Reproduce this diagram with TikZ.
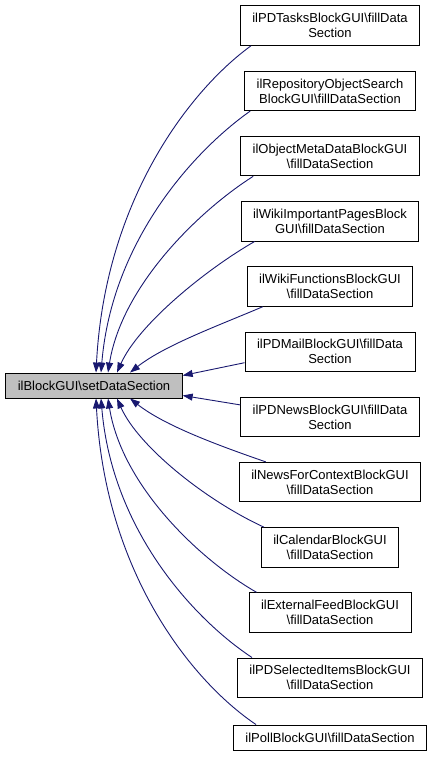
\documentclass[tikz,border=0pt]{standalone}
\usepackage{fontspec}
\setmainfont{Liberation Sans}[Ligatures=NoCommon]
\usetikzlibrary{arrows.meta}
\definecolor{edgeblue}{HTML}{191970}
\definecolor{maingray}{HTML}{BFBFBF}
\begin{document}
\begin{tikzpicture}[x=1pt,y=-1pt,
  box/.style={draw=black, line width=0.9pt, fill=white, align=center,
    font=\fontsize{13}{15}\selectfont, inner xsep=12pt, inner ysep=0pt},
  two/.style={box, minimum height=39.5pt},
  one/.style={box, minimum height=25pt},
  edge/.style={draw=edgeblue, line width=0.9pt,
    -{Triangle[length=10pt,width=7pt,fill=edgeblue]}}]
\useasboundingbox (0,0) rectangle (433,757);
\node[one, fill=maingray] (m) at (94,385.5) {ilBlockGUI\textbackslash setDataSection};
\node[two] (b1) at (330,25.7) {ilPDTasksBlockGUI\textbackslash fillData\\Section};
\node[two] (b2) at (330,90.9) {ilRepositoryObjectSearch\\BlockGUI\textbackslash fillDataSection};
\node[two] (b3) at (330,156.1) {ilObjectMetaDataBlockGUI\\\textbackslash fillDataSection};
\node[two] (b4) at (330,221.3) {ilWikiImportantPagesBlock\\GUI\textbackslash fillDataSection};
\node[two] (b5) at (330,286.5) {ilWikiFunctionsBlockGUI\\\textbackslash fillDataSection};
\node[two] (b6) at (330,351.7) {ilPDMailBlockGUI\textbackslash fillData\\Section};
\node[two] (b7) at (330,416.9) {ilPDNewsBlockGUI\textbackslash fillData\\Section};
\node[two] (b8) at (330,482.1) {ilNewsForContextBlockGUI\\\textbackslash fillDataSection};
\node[two] (b9) at (330,547.3) {ilCalendarBlockGUI\\\textbackslash fillDataSection};
\node[two] (b10) at (330,612.5) {ilExternalFeedBlockGUI\\\textbackslash fillDataSection};
\node[two] (b11) at (330,677.7) {ilPDSelectedItemsBlockGUI\\\textbackslash fillDataSection};
\node[one] (b12) at (330,737.5) {ilPollBlockGUI\textbackslash fillDataSection};
% upper edges
\draw[edge] ([xshift=11pt]b1.south west) .. controls (190,90) and (105,200) .. ([xshift=2pt]m.north);
\draw[edge] ([xshift=6pt]b2.south west) .. controls (195,150) and (112,240) .. ([xshift=7pt]m.north);
\draw[edge] ([xshift=13pt]b3.south west) .. controls (200,210) and (122,285) .. ([xshift=14pt]m.north);
\draw[edge] ([xshift=14pt]b4.south west) .. controls (205,270) and (138,325) .. ([xshift=23pt]m.north);
\draw[edge] ([xshift=16pt]b5.south west) .. controls (220,325) and (165,345) .. ([xshift=36pt]m.north);
\draw[edge] ([yshift=-11pt]b6.west) -- ([yshift=10pt]m.east);
\draw[edge] ([yshift=12pt]b7.west) -- ([yshift=-10pt]m.east);
% lower edges
\draw[edge] ([xshift=27pt]b8.north west) .. controls (220,446) and (165,426) .. ([xshift=36pt]m.south);
\draw[edge] ([xshift=3pt]b9.north west) .. controls (205,500) and (138,446) .. ([xshift=23pt]m.south);
\draw[edge] ([xshift=8pt]b10.north west) .. controls (200,560) and (122,486) .. ([xshift=14pt]m.south);
\draw[edge] ([xshift=15pt]b11.north west) .. controls (195,620) and (112,531) .. ([xshift=7pt]m.south);
\draw[edge] ([xshift=23pt]b12.north west) .. controls (190,680) and (105,571) .. ([xshift=2pt]m.south);
\end{tikzpicture}
\end{document}
